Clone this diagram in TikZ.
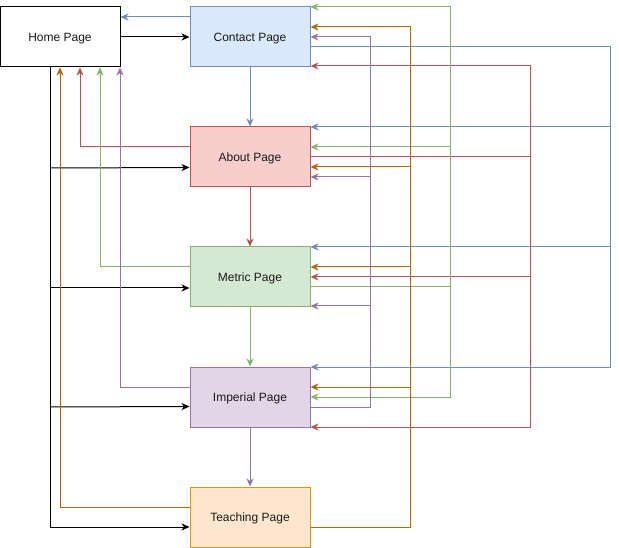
\documentclass[tikz,border=0pt]{standalone}
\usepackage{fontspec}
\setmainfont{Liberation Sans}
\usetikzlibrary{arrows.meta}
\definecolor{bluS}{HTML}{6C8EBF}\definecolor{bluF}{HTML}{DAE8FC}
\definecolor{redS}{HTML}{B85450}\definecolor{redF}{HTML}{F8CECC}
\definecolor{grnS}{HTML}{82B366}\definecolor{grnF}{HTML}{D5E8D4}
\definecolor{purS}{HTML}{9673A6}\definecolor{purF}{HTML}{E1D5E7}
\definecolor{orgS}{HTML}{D79B00}\definecolor{orgF}{HTML}{FFE6CC}
\definecolor{orgL}{HTML}{B46504}
\definecolor{txt}{HTML}{1A1A1A}
\tikzset{
  page/.style={draw, line width=1pt, minimum width=120pt, minimum height=60pt, inner sep=0pt, text height=8.6pt, text depth=0pt, font=\fontsize{12pt}{14pt}\selectfont, text=txt},
  conn/.style={line width=1pt, -{Stealth[length=8pt,width=7pt,inset=2.5pt]}},
  plain/.style={line width=1pt},
}
\begin{document}
\begin{tikzpicture}[x=1pt,y=-1pt]
\useasboundingbox (0,0) rectangle (619,548);
\node[page, draw=black, fill=white] (home) at (60,37) {Home Page};
\node[page, draw=bluS, fill=bluF] (contact) at (250,37) {Contact Page};
\node[page, draw=redS, fill=redF] (about) at (250,157) {About Page};
\node[page, draw=grnS, fill=grnF] (metric) at (250,277) {Metric Page};
\node[page, draw=purS, fill=purF] (imperial) at (250,397) {Imperial Page};
\node[page, draw=orgS, fill=orgF] (teaching) at (250,517) {Teaching Page};

% top row
\draw[conn, bluS] (contact.west |- 0,17) -- (home.east |- 0,17);
\draw[conn, black] (home) -- (contact);

% vertical chain
\draw[conn, bluS] (contact) -- (about);
\draw[conn, redS] (about) -- (metric);
\draw[conn, grnS] (metric) -- (imperial);
\draw[conn, purS] (imperial) -- (teaching);

% home bus
\coordinate (b1) at (50,168);
\coordinate (b2) at (50,288);
\coordinate (b3) at (50,407);
\draw[conn, black] (home.south -| 50,0) |- (teaching.west |- 0,527);
\draw[conn, black] (b1) -- (about.west |- 0,167.5);
\draw[conn, black] (b2) -- (metric.west |- 0,288);
\draw[conn, black] (b3) -- (imperial.west |- 0,406.5);

% returns to home
\draw[conn, orgL] (teaching.west |- 0,507) -| (home.south -| 60,0);
\draw[conn, redS] (about.west |- 0,147) -| (home.south -| 80,0);
\draw[conn, grnS] (metric.west |- 0,267) -| (home.south -| 100,0);
\draw[conn, purS] (imperial.west |- 0,387) -| (home.south -| 120,0);

% blue from contact
\draw[conn, bluS] (contact.east |- 0,47) -- (610,47) |- (about.east |- 0,127);
\draw[conn, bluS] (contact.east |- 0,47) -- (610,47) |- (metric.east |- 0,247);
\draw[conn, bluS] (contact.east |- 0,47) -- (610,47) |- (imperial.east |- 0,367);

% red from about
\draw[conn, redS] (about.east |- 0,157) -- (530,157) |- (contact.east |- 0,66);
\draw[conn, redS] (about.east |- 0,157) -- (530,157) |- (metric.east |- 0,277);
\draw[conn, redS] (about.east |- 0,157) -- (530,157) |- (imperial.east |- 0,427);

% green from metric
\draw[conn, grnS] (metric.east |- 0,287) -- (450,287) |- (contact.east |- 0,7);
\draw[conn, grnS] (metric.east |- 0,287) -- (450,287) |- (about.east |- 0,147);
\draw[conn, grnS] (metric.east |- 0,287) -- (450,287) |- (imperial.east |- 0,397);

% purple from imperial
\draw[conn, purS] (imperial.east |- 0,407) -- (370,407) |- (contact.east |- 0,37);
\draw[conn, purS] (imperial.east |- 0,407) -- (370,407) |- (about.east |- 0,177);
\draw[conn, purS] (imperial.east |- 0,407) -- (370,407) |- (metric.east |- 0,306);

% orange from teaching
\draw[conn, orgL] (teaching.east |- 0,527) -- (410,527) |- (contact.east |- 0,27);
\draw[conn, orgL] (teaching.east |- 0,527) -- (410,527) |- (about.east |- 0,167);
\draw[conn, orgL] (teaching.east |- 0,527) -- (410,527) |- (metric.east |- 0,267);
\draw[conn, orgL] (teaching.east |- 0,527) -- (410,527) |- (imperial.east |- 0,387);
\end{tikzpicture}
\end{document}
